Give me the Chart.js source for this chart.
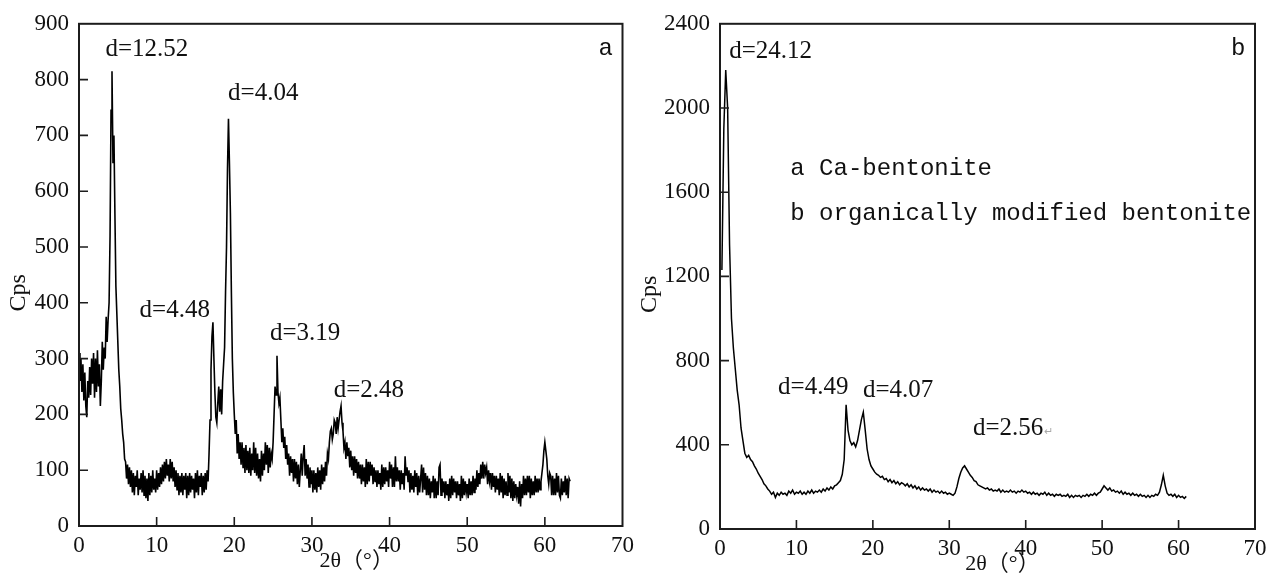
<!DOCTYPE html>
<html>
<head>
<meta charset="utf-8">
<script src="https://cdn.jsdelivr.net/npm/chart.js@4.4.0/dist/chart.umd.min.js"></script>
<style>
  html, body { margin: 0; padding: 0; background: #fff; }
  .panel { position: absolute; top: 0; height: 585px; }
  #wrapA { left: 0; width: 640px; }
  #wrapB { left: 640px; width: 636px; }
</style>
</head>
<body>
<div class="panel" id="wrapA"><canvas id="chartA"></canvas></div>
<div class="panel" id="wrapB"><canvas id="chartB"></canvas></div>
<script>
const stepA = 0.125;
const stepB = 0.25;
const startA = 0;
const startB = 0.25;

// a: Ca-bentonite, Cps, one row = 2 degrees
const cpsA = [
  310, 260, 300, 240, 290, 225, 275, 215, 195, 260, 230, 285, 235, 300, 255, 310,
  230, 300, 240, 315, 250, 290, 215, 260, 330, 280, 320, 300, 375, 330, 370, 400,
  520, 745, 815, 650, 700, 560, 430, 380, 330, 280, 250, 210, 190, 165, 150, 120,
  115, 85, 110, 75, 105, 70, 100, 60, 95, 55, 90, 70, 100, 55, 85, 65,
  95, 60, 100, 55, 90, 50, 85, 45, 95, 55, 90, 60, 100, 65, 85, 60,
  100, 65, 95, 70, 105, 75, 110, 80, 115, 85, 120, 90, 110, 80, 120, 85,
  115, 80, 105, 70, 100, 65, 95, 55, 90, 60, 95, 55, 90, 65, 95, 50,
  90, 55, 95, 60, 90, 65, 85, 50, 95, 60, 100, 55, 90, 70, 95, 55,
  90, 60, 95, 65, 100, 80, 130, 190, 280, 340, 365, 300, 240, 195, 185, 220,
  250, 205, 245, 200, 260, 290, 320, 420, 500, 640, 730, 650, 560, 420, 300, 240,
  200, 165, 190, 130, 165, 120, 150, 110, 150, 105, 140, 95, 145, 100, 135, 95,
  140, 90, 130, 100, 150, 95, 140, 90, 130, 85, 120, 80, 135, 90, 130, 100,
  150, 110, 145, 95, 140, 105, 130, 120, 150, 200, 250, 235, 305, 240, 220, 230,
  190, 150, 175, 140, 160, 120, 145, 110, 130, 90, 125, 95, 120, 80, 120, 85,
  115, 75, 110, 70, 100, 130, 90, 125, 145, 90, 120, 85, 110, 70, 105, 75,
  100, 60, 100, 65, 95, 60, 105, 70, 100, 65, 110, 75, 105, 80, 115, 90,
  130, 120, 150, 170, 175, 155, 165, 190, 185, 165, 195, 175, 190, 205, 215, 185,
  170, 140, 150, 120, 150, 125, 140, 105, 135, 100, 125, 90, 125, 95, 120, 85,
  115, 85, 110, 75, 110, 80, 105, 70, 120, 75, 115, 80, 115, 90, 110, 75,
  105, 80, 100, 70, 100, 75, 95, 65, 110, 70, 105, 75, 105, 80, 100, 70,
  115, 85, 110, 70, 105, 70, 125, 80, 105, 80, 100, 65, 100, 75, 95, 65,
  125, 90, 105, 80, 100, 60, 95, 65, 90, 60, 100, 70, 95, 55, 90, 60,
  85, 110, 60, 105, 65, 95, 55, 90, 55, 85, 50, 80, 60, 90, 50, 85,
  50, 80, 55, 105, 110, 55, 85, 60, 80, 50, 80, 55, 75, 45, 85, 50,
  90, 55, 85, 60, 80, 50, 80, 55, 75, 45, 90, 50, 85, 55, 80, 60,
  75, 50, 85, 55, 80, 55, 90, 60, 85, 65, 100, 70, 95, 75, 110, 85,
  115, 85, 110, 95, 105, 75, 100, 80, 95, 65, 95, 70, 90, 60, 90, 65,
  85, 55, 95, 60, 90, 50, 85, 55, 80, 55, 95, 60, 90, 50, 85, 45,
  80, 50, 75, 55, 70, 40, 80, 35, 75, 50, 90, 55, 85, 55, 90, 60,
  90, 50, 85, 55, 80, 55, 90, 60, 85, 60, 85, 65, 80, 95, 110, 135,
  150, 135, 120, 90, 75, 95, 90, 55, 90, 55, 85, 55, 95, 60, 90, 55,
  50, 85, 55, 80, 60, 90, 55, 85, 50, 85, 80
];

// b: organically modified bentonite, Cps, one row = 2 degrees
const cpsB = [
  1230, 1900, 2180, 2000, 1350, 1000, 860, 760,
  660, 590, 480, 420, 360, 340, 350, 330,
  320, 300, 285, 265, 250, 235, 215, 205,
  190, 180, 165, 175, 150, 170, 160, 175,
  165, 170, 160, 180, 170, 185, 165, 175,
  170, 180, 165, 175, 165, 180, 170, 185,
  170, 180, 175, 185, 175, 190, 180, 195,
  185, 200, 190, 205, 210, 220, 230, 260,
  330, 590, 470, 420, 400, 410, 390, 420,
  470, 520, 555, 470, 380, 330, 300, 285,
  270, 260, 255, 245, 250, 235, 240, 225,
  235, 220, 230, 215, 225, 210, 220, 215,
  205, 215, 200, 210, 195, 205, 190, 200,
  185, 195, 185, 190, 180, 190, 175, 185,
  175, 180, 170, 180, 170, 175, 165, 170,
  165, 160, 170, 200, 240, 270, 290, 300,
  285, 270, 255, 245, 230, 225, 210, 205,
  200, 195, 190, 195, 185, 190, 180, 185,
  180, 190, 175, 185, 175, 180, 175, 185,
  175, 180, 170, 180, 175, 185, 175, 180,
  170, 175, 165, 175, 165, 170, 160, 170,
  165, 175, 160, 170, 160, 165, 155, 165,
  160, 165, 155, 160, 155, 165, 150, 160,
  150, 160, 155, 160, 150, 160, 155, 165,
  155, 165, 160, 170, 160, 170, 175, 190,
  205, 195, 185, 195, 180, 185, 175, 180,
  170, 180, 165, 175, 165, 170, 160, 170,
  160, 165, 155, 165, 155, 160, 150, 160,
  150, 160, 155, 165, 160, 175, 210, 255,
  205, 170, 160, 165, 155, 165, 150, 160,
  150, 155, 145, 155
];

const xMax = 70, xStep = 10;
const yMaxA = 900, yStepA = 100;
const yMaxB = 2400, yStepB = 400;

// peak labels, anchored in data units: [text, 2θ, Cps]
const peaksA = [
  ['d=12.52', 3.4, 854],
  ['d=4.04', 19.2, 775],
  ['d=4.48', 7.8, 386],
  ['d=3.19', 24.6, 345],
  ['d=2.48', 32.8, 243]
];
const peaksB = [
  ['d=24.12', 1.2, 2267],
  ['d=4.49', 7.6, 672],
  ['d=4.07', 18.7, 658],
  ['d=2.56', 33.1, 478]
];
const legendB = [
  ['a Ca-bentonite', 9.2, 1714],
  ['b organically modified bentonite', 9.2, 1496]
];

const SERIF = "'Liberation Serif', 'Times New Roman', serif";
const MONO = "'Liberation Mono', 'DejaVu Sans Mono', monospace";

function toPoints(start, step, vals) {
  return vals.map((v, i) => ({ x: start + i * step, y: v }));
}

// box frame, inward ticks, titles and peak labels
const framePlugin = {
  id: 'frame',
  afterDatasetsDraw(chart, args, opts) {
    const { ctx, chartArea: a, scales: { x, y } } = chart;
    ctx.save();
    ctx.strokeStyle = '#1c1c1c';
    ctx.lineWidth = 2;
    ctx.strokeRect(a.left, a.top, a.right - a.left, a.bottom - a.top);

    ctx.lineWidth = 1.6;
    ctx.beginPath();
    x.ticks.forEach(t => {
      if (t.value <= x.min || t.value >= x.max) return;
      const px = x.getPixelForValue(t.value);
      ctx.moveTo(px, a.bottom);
      ctx.lineTo(px, a.bottom - 9);
    });
    y.ticks.forEach(t => {
      if (t.value <= y.min || t.value >= y.max) return;
      const py = y.getPixelForValue(t.value);
      ctx.moveTo(a.left, py);
      ctx.lineTo(a.left + 9, py);
    });
    ctx.stroke();

    ctx.fillStyle = '#111';
    ctx.textBaseline = 'middle';
    ctx.textAlign = 'left';
    ctx.font = '25px ' + SERIF;
    opts.peaks.forEach(([txt, vx, vy]) => {
      ctx.fillText(txt, x.getPixelForValue(vx), y.getPixelForValue(vy));
    });
    if (opts.mark) {
      const [txt, vx, vy] = opts.mark;
      const w = ctx.measureText(txt).width;
      ctx.fillStyle = '#aaa';
      ctx.font = '11px ' + SERIF;
      ctx.fillText('\u21B5', x.getPixelForValue(vx) + w + 1, y.getPixelForValue(vy) + 4);
      ctx.fillStyle = '#111';
    }
    ctx.font = '24px ' + MONO;
    (opts.legend || []).forEach(([txt, vx, vy]) => {
      ctx.fillText(txt, x.getPixelForValue(vx), y.getPixelForValue(vy));
    });
    ctx.fillText(opts.tag, a.right - 24, a.top + 25);

    // axis titles
    ctx.font = '22px ' + SERIF + ", 'Noto Sans CJK SC'";
    ctx.textAlign = 'center';
    ctx.fillText('2\u03B8\uFF08\u00B0\uFF09', (a.left + a.right) / 2 + opts.titleDx, a.bottom + 35);
    ctx.translate(a.left - opts.cpsDx, (a.top + a.bottom) / 2 + 18);
    ctx.rotate(-Math.PI / 2);
    ctx.font = '24px ' + SERIF;
    ctx.fillText('Cps', 0, 0);
    ctx.restore();
  }
};

function makeChart(id, start, step, vals, yMax, yStep, width, xHeight, pad, lw, plug) {
  return new Chart(document.getElementById(id), {
    type: 'line',
    data: {
      datasets: [{
        data: toPoints(start, step, vals),
        borderColor: '#000',
        borderWidth: lw,
        pointRadius: 0,
        tension: 0,
        fill: false
      }]
    },
    options: {
      responsive: true,
      maintainAspectRatio: false,
      animation: false,
      layout: { padding: pad },
      plugins: { legend: { display: false }, tooltip: { enabled: false }, frame: plug },
      scales: {
        x: {
          type: 'linear', min: 0, max: xMax,
          grid: { display: false, drawTicks: false },
          border: { display: false },
          ticks: { stepSize: xStep, padding: 6, color: '#111', maxRotation: 0, autoSkip: false,
                   font: { family: SERIF, size: 23 }, callback: v => String(v) },
          afterFit: s => { s.height = xHeight; }
        },
        y: {
          min: 0, max: yMax,
          grid: { display: false, drawTicks: false },
          border: { display: false },
          ticks: { stepSize: yStep, padding: 10, color: '#111',
                   font: { family: SERIF, size: 23 }, callback: v => String(v) },
          afterFit: s => { s.width = width; }
        }
      }
    },
    plugins: [framePlugin]
  });
}

makeChart('chartA', startA, stepA, cpsA, yMaxA, yStepA, 79, 59,
  { left: 0, top: 22, right: 15, bottom: 0 }, 1.6,
  { peaks: peaksA, tag: 'a', titleDx: 6, cpsDx: 60 });

makeChart('chartB', startB, stepB, cpsB, yMaxB, yStepB, 80, 56,
  { left: 0, top: 22, right: 21, bottom: 0 }, 1.5,
  { peaks: peaksB, legend: legendB, tag: 'b', titleDx: 15, cpsDx: 70, mark: peaksB[3] });
</script>
</body>
</html>
